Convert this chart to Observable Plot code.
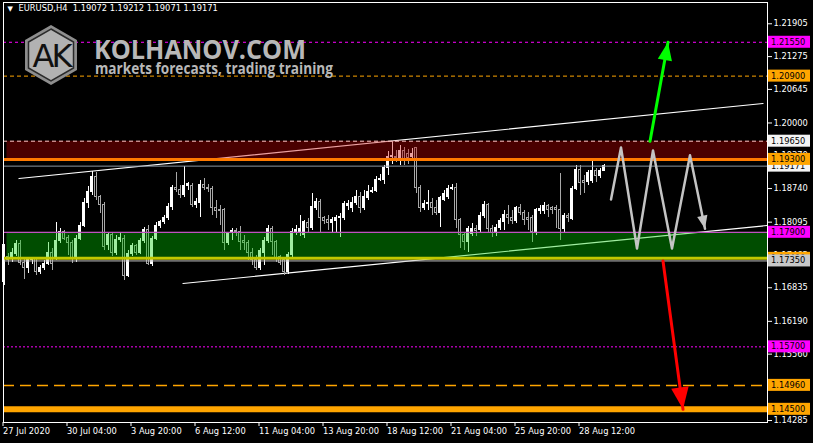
<!DOCTYPE html>
<html><head><meta charset="utf-8">
<script src="https://cdn.jsdelivr.net/npm/d3@7"></script>
<script src="https://cdn.jsdelivr.net/npm/@observablehq/plot@0.6"></script>
<style>html,body{margin:0;padding:0;background:#000;}svg{display:block}</style>
</head><body><div id="chart"></div>
<script>
// ---- data (EURUSD H4) ----
const open = [
1.1694,1.1742,1.1742,1.1749,1.1767,1.1732,1.1721,1.1736,1.1738,1.1713,
1.1722,1.1730,1.1751,1.1742,1.1774,1.1790,1.1780,1.1769,1.1740,1.1778,
1.1803,1.1847,1.1867,1.1897,1.1857,1.1842,1.1765,1.1784,1.1751,1.1776,
1.1778,1.1707,1.1749,1.1763,1.1751,1.1774,1.1794,1.1730,1.1778,1.1803,
1.1809,1.1817,1.1838,1.1876,1.1872,1.1861,1.1878,1.1878,1.1842,1.1847,
1.1880,1.1876,1.1874,1.1836,1.1832,1.1832,1.1769,1.1790,1.1792,1.1790,
1.1774,1.1769,1.1751,1.1736,1.1722,1.1751,1.1774,1.1797,1.1771,1.1742,
1.1736,1.1713,1.1746,1.1790,1.1788,1.1784,1.1807,1.1799,1.1836,1.1849,
1.1817,1.1813,1.1807,1.1811,1.1817,1.1817,1.1840,1.1836,1.1847,1.1857,
1.1836,1.1855,1.1868,1.1870,1.1891,1.1890,1.1913,1.1934,1.1934,1.1928,
1.1947,1.1941,1.1934,1.1951,1.1876,1.1836,1.1845,1.1847,1.1836,1.1828,
1.1853,1.1857,1.1874,1.1876,1.1813,1.1784,1.1771,1.1786,1.1796,1.1794,
1.1822,1.1842,1.1797,1.1788,1.1799,1.1809,1.1824,1.1817,1.1811,1.1836,
1.1828,1.1817,1.1817,1.1790,1.1830,1.1830,1.1840,1.1836,1.1836,1.1832,
1.1796,1.1822,1.1815,1.1874,1.1909,1.1888,1.1886,1.1888,1.1907,1.1899,
1.19072];
const high = [
1.1765,1.1749,1.1759,1.1774,1.1774,1.1740,1.1740,1.1742,1.1742,1.1726,
1.1736,1.1771,1.1759,1.1809,1.1797,1.1794,1.1784,1.1774,1.1784,1.1809,
1.1855,1.1878,1.1907,1.1905,1.1861,1.1847,1.1790,1.1790,1.1784,1.1790,
1.1784,1.1755,1.1769,1.1767,1.1778,1.1799,1.1803,1.1782,1.1809,1.1813,
1.1822,1.1845,1.1880,1.1905,1.1880,1.1916,1.1886,1.1884,1.1855,1.1890,
1.1893,1.1882,1.1878,1.1851,1.1842,1.1836,1.1790,1.1797,1.1797,1.1801,
1.1784,1.1774,1.1759,1.1746,1.1759,1.1780,1.1803,1.1801,1.1774,1.1746,
1.1740,1.1751,1.1797,1.1803,1.1822,1.1813,1.1817,1.1865,1.1855,1.1853,
1.1820,1.1822,1.1819,1.1822,1.1826,1.1849,1.1851,1.1857,1.1870,1.1867,
1.1870,1.1880,1.1876,1.1897,1.1901,1.1918,1.1945,1.1964,1.1947,1.1957,
1.1953,1.1949,1.1951,1.1953,1.1880,1.1851,1.1870,1.1855,1.1851,1.1859,
1.1870,1.1880,1.1882,1.1884,1.1817,1.1790,1.1801,1.1807,1.1803,1.1828,
1.1849,1.1845,1.1803,1.1805,1.1817,1.1832,1.1842,1.1832,1.1840,1.1843,
1.1832,1.1828,1.1822,1.1836,1.1842,1.1847,1.1843,1.1840,1.1842,1.1903,
1.1826,1.1826,1.1878,1.1918,1.1918,1.1899,1.1909,1.1928,1.1913,1.1913,
1.19212];
const low = [
1.1688,1.1726,1.1732,1.1744,1.1726,1.1700,1.1711,1.1728,1.1707,1.1709,
1.1717,1.1726,1.1717,1.1736,1.1769,1.1774,1.1746,1.1730,1.1732,1.1774,
1.1799,1.1836,1.1861,1.1851,1.1826,1.1755,1.1755,1.1744,1.1746,1.1771,
1.1698,1.1703,1.1744,1.1746,1.1748,1.1769,1.1726,1.1724,1.1774,1.1797,
1.1805,1.1813,1.1832,1.1867,1.1855,1.1857,1.1870,1.1838,1.1836,1.1819,
1.1870,1.1867,1.1822,1.1817,1.1803,1.1755,1.1765,1.1774,1.1782,1.1755,
1.1755,1.1736,1.1726,1.1717,1.1717,1.1726,1.1769,1.1746,1.1732,1.1726,
1.1707,1.1709,1.1740,1.1784,1.1782,1.1778,1.1790,1.1794,1.1832,1.1790,
1.1805,1.1794,1.1790,1.1788,1.1780,1.1813,1.1832,1.1828,1.1842,1.1826,
1.1832,1.1851,1.1865,1.1867,1.1888,1.1882,1.1899,1.1920,1.1924,1.1918,
1.1918,1.1920,1.1928,1.1865,1.1828,1.1832,1.1832,1.1822,1.1822,1.1799,
1.1849,1.1853,1.1870,1.1797,1.1759,1.1755,1.1751,1.1782,1.1782,1.1790,
1.1817,1.1790,1.1780,1.1782,1.1794,1.1794,1.1805,1.1805,1.1807,1.1822,
1.1803,1.1794,1.1771,1.1784,1.1824,1.1824,1.1819,1.1824,1.1797,1.1774,
1.1790,1.1809,1.1813,1.1870,1.1861,1.1865,1.1880,1.1884,1.1886,1.1893,
1.19071];
const close = [
1.1765,1.1736,1.1751,1.1767,1.1732,1.1721,1.1736,1.1738,1.1713,1.1722,
1.1730,1.1751,1.1730,1.1774,1.1790,1.1778,1.1769,1.1740,1.1778,1.1803,
1.1847,1.1867,1.1897,1.1857,1.1842,1.1761,1.1784,1.1751,1.1776,1.1780,
1.1707,1.1749,1.1763,1.1751,1.1774,1.1794,1.1730,1.1778,1.1803,1.1809,
1.1817,1.1838,1.1876,1.1872,1.1861,1.1878,1.1882,1.1842,1.1849,1.1880,
1.1876,1.1874,1.1836,1.1830,1.1831,1.1769,1.1786,1.1792,1.1790,1.1771,
1.1769,1.1751,1.1736,1.1722,1.1755,1.1774,1.1797,1.1771,1.1740,1.1732,
1.1713,1.1746,1.1790,1.1794,1.1797,1.1809,1.1799,1.1838,1.1849,1.1817,
1.1811,1.1807,1.1813,1.1817,1.1819,1.1845,1.1845,1.1847,1.1857,1.1836,
1.1857,1.1868,1.1870,1.1890,1.1893,1.1913,1.1934,1.1936,1.1932,1.1947,
1.1928,1.1932,1.1941,1.1876,1.1836,1.1845,1.1847,1.1836,1.1828,1.1855,
1.1863,1.1874,1.1876,1.1813,1.1784,1.1771,1.1797,1.1796,1.1792,1.1822,
1.1842,1.1797,1.1788,1.1799,1.1811,1.1824,1.1817,1.1811,1.1836,1.1828,
1.1813,1.1813,1.1790,1.1832,1.1834,1.1840,1.1832,1.1832,1.1832,1.1796,
1.1822,1.1817,1.1874,1.1909,1.1884,1.1884,1.1903,1.1907,1.1899,1.1907,
1.19171];

const xTickIdx = [0,16,32,48,64,80,96,112,128,144];
const xTickLabels = ["27 Jul 2020","30 Jul 04:00","3 Aug 20:00","6 Aug 12:00","11 Aug 04:00","13 Aug 20:00","18 Aug 12:00","21 Aug 04:00","25 Aug 20:00","28 Aug 12:00"];
const yTicks = [1.21905,1.21275,1.20645,1.20000,1.19370,1.18740,1.18095,1.17465,1.16835,1.16190,1.15560,1.14930,1.14285];

const targetsUp = [1.2155, 1.2090];
const redZone = [1.1930, 1.1965];
const greenZone = [1.1740, 1.1790];
const support = [1.1735];
const targetsDown = [1.1570, 1.1496, 1.1450];
const bid = [1.19171];
const zoneStart = [0.75];

const upperTrendI = [3.75, 189.75], upperTrendP = [1.18933, 1.20374];
const lowerTrendI = [44.75, 190.75], lowerTrendP = [1.16917, 1.18031];
const zigI = [151.75, 154.25, 158.25, 162.25, 167, 171.5, 175.25];
const zigP = [1.1853, 1.1953, 1.1759, 1.1947, 1.1759, 1.1938, 1.1797];
const upArrowI = [161.5, 166], upArrowP = [1.1965, 1.2155];
const downArrowI = [164.75, 169.75], downArrowP = [1.1735, 1.1450];

const title = "EURUSD,H4  1.19072 1.19212 1.19071 1.19171";

// ---- build ----
const candles = close.map((c, i) => ({i, o: open[i], h: high[i], l: low[i], c}));
const bulls = candles.filter(d => d.c >= d.o);
const bears = candles.filter(d => d.c < d.o);
const pts = (I, P) => I.map((x, k) => ({i: x, p: P[k]}));
const xMax = 190.875;

const arrowHead = {draw(ctx, size) {
  const l = Math.sqrt(size / Math.PI), w = l * 0.4;
  ctx.moveTo(0, 0); ctx.lineTo(w, l); ctx.lineTo(-w, l); ctx.closePath();
}};

const font = "DejaVu Sans";
const fs = 8.3;

const svg = Plot.plot({
  width: 813, height: 443,
  marginLeft: 3, marginRight: 46, marginTop: 2, marginBottom: 21,
  style: {background: "#000", color: "#fff", fontFamily: font, fontSize: fs + "px"},
  x: {domain: [-0.125, xMax], label: null},
  y: {domain: [1.14247, 1.22314], label: null},
  marks: [
    // trend channel
    Plot.line(pts(upperTrendI, upperTrendP), {x: "i", y: "p", stroke: "#fff", strokeWidth: 1.2}),
    Plot.line(pts(lowerTrendI, lowerTrendP), {x: "i", y: "p", stroke: "#fff", strokeWidth: 1.2}),
    // candles
    Plot.ruleX(bulls, {x: "i", y1: "l", y2: "h", stroke: "#fff", strokeWidth: 1, shapeRendering: "crispEdges"}),
    Plot.ruleX(bears, {x: "i", y1: "l", y2: "h", stroke: "#a8a8a8", strokeWidth: 1, shapeRendering: "crispEdges"}),
    Plot.rect(bulls, {x1: d => d.i - 0.25, x2: d => d.i + 0.25, y1: "o", y2: "c", fill: "#fff", stroke: "#fff", strokeWidth: 1, shapeRendering: "crispEdges"}),
    Plot.rect(bears, {x1: d => d.i - 0.25, x2: d => d.i + 0.25, y1: "o", y2: "c", fill: "#000", stroke: "#a8a8a8", strokeWidth: 1, shapeRendering: "crispEdges"}),
    // zones (semi-transparent over candles)
    Plot.rect([0], {x1: zoneStart[0], x2: xMax, y1: redZone[0], y2: redZone[1], fill: "#c80000", fillOpacity: 0.37}),
    Plot.rect([0], {x1: zoneStart[0], x2: xMax, y1: greenZone[0], y2: greenZone[1], fill: "#00d000", fillOpacity: 0.37}),
    // horizontal levels
    Plot.ruleY([targetsUp[0]], {stroke: "#ff00ff", strokeDasharray: "3,3", strokeWidth: 1}),
    Plot.ruleY([targetsUp[1]], {stroke: "#ffa500", strokeDasharray: "4,3", strokeWidth: 1}),
    Plot.ruleY([redZone[1]], {stroke: "#ffc8c8", strokeDasharray: "4,3", strokeWidth: 1}),
    Plot.ruleY(bid, {stroke: "#8a96a2", strokeWidth: 1}),
    Plot.ruleY([redZone[0]], {stroke: "#ff7a00", strokeWidth: 3}),
    Plot.ruleY([greenZone[1]], {stroke: "#c050c0", strokeWidth: 1.2}),
    Plot.ruleY([greenZone[0]], {stroke: "#c0c800", strokeWidth: 3}),
    Plot.ruleY(support, {stroke: "#c0c0c0", strokeWidth: 1}),
    Plot.ruleY([targetsDown[0]], {stroke: "#ff00ff", strokeDasharray: "2,2", strokeWidth: 1}),
    Plot.ruleY([targetsDown[1]], {stroke: "#ffa500", strokeDasharray: "11,6", strokeWidth: 1.5}),
    Plot.ruleY([targetsDown[2]], {stroke: "#ffa500", strokeWidth: 6}),
    // forecast zigzag
    Plot.line(pts(zigI, zigP), {x: "i", y: "p", stroke: "#c4c4c4", strokeWidth: 2.5}),
    Plot.dot(pts(zigI, zigP).slice(-1), {x: "i", y: "p", r: 13, symbol: arrowHead, rotate: 168, fill: "#c4c4c4", stroke: "none"}),
    // up / down scenario arrows
    Plot.line(pts(upArrowI, upArrowP), {x: "i", y: "p", stroke: "#00ff00", strokeWidth: 3}),
    Plot.dot(pts(upArrowI, upArrowP).slice(-1), {x: "i", y: "p", r: 18, symbol: arrowHead, rotate: 10, fill: "#00ff00", stroke: "none"}),
    Plot.line(pts(downArrowI, downArrowP), {x: "i", y: "p", stroke: "#ff0000", strokeWidth: 3}),
    Plot.dot(pts(downArrowI, downArrowP).slice(-1), {x: "i", y: "p", r: 22, symbol: arrowHead, rotate: 172, fill: "#ff0000", stroke: "none"}),
    // header
    Plot.text(["▼"], {text: d => d, frameAnchor: "top-left", dx: 4, dy: 4, textAnchor: "start", fill: "#fff", fontSize: 7}),
    Plot.text([title], {text: d => d, frameAnchor: "top-left", dx: 15, dy: 3, textAnchor: "start", fill: "#fff", fontSize: fs}),
    // axes
    Plot.axisY(yTicks, {anchor: "right", label: null, tickSize: 4, tickPadding: 2, tickFormat: d3.format(".5f"), stroke: "#fff", fill: "#fff", fontSize: fs}),
    Plot.axisX(xTickIdx, {anchor: "bottom", label: null, tickSize: 4, tickPadding: 2, tickFormat: d => xTickLabels[xTickIdx.indexOf(d)], textAnchor: "start", dx: -1, stroke: "#fff", fill: "#fff", fontSize: fs}),
    Plot.frame({stroke: "#fff"})
  ]
});

// price label boxes on the right axis
const yS = svg.scale("y");
const labelPrices = [targetsUp[0], targetsUp[1], redZone[1], bid[0], redZone[0], greenZone[1], greenZone[0], support[0], targetsDown[0], targetsDown[1], targetsDown[2]];
const labelColors = ["#ff00ff", "#ffa500", "#f4f4f4", "#f4f4f4", "#ffa500", "#ff00ff", "#ffa500", "#c8c8c8", "#ff00ff", "#ffa500", "#ffa500"];
const root = d3.select(svg);
const lg = root.append("g").attr("font-family", font).attr("font-size", fs).attr("text-anchor", "start");
labelPrices.forEach((p, k) => {
  const y = yS.apply(p);
  lg.append("rect").attr("x", 768).attr("y", y - 6).attr("width", 42).attr("height", 12).attr("fill", labelColors[k]);
  lg.append("text").attr("x", 771).attr("y", y).attr("dy", "0.35em").attr("text-anchor", "start").attr("fill", "#000").text(d3.format(".5f")(p));
});

// watermark
const wm = root.append("g").attr("text-anchor", "start");
const hex = (cx, cy, R) => d3.range(6).map(k => {
  const a = Math.PI / 3 * k - Math.PI / 2;
  return [cx + R * Math.cos(a), cy + R * Math.sin(a)];
}).map(p => p.join(",")).join(" ");
wm.append("polygon").attr("points", hex(51, 55, 30)).attr("fill", "#8e8e8e");
wm.append("polygon").attr("points", hex(51, 55, 26)).attr("fill", "#b2b2b2").attr("stroke", "#2a2a2a").attr("stroke-width", 1.5);
wm.append("text").attr("x", 51).attr("y", 67).attr("text-anchor", "middle").attr("font-family", font)
  .attr("font-size", 32).attr("letter-spacing", -3).attr("fill", "#111").text("AK");
wm.append("text").attr("x", 94).attr("y", 59).attr("text-anchor", "start").attr("font-family", "Open Sans").attr("font-weight", "bold")
  .attr("font-size", 27).attr("textLength", 212).attr("lengthAdjust", "spacingAndGlyphs").attr("fill", "#b8b8b8").text("KOLHANOV.COM");
wm.append("text").attr("x", 95).attr("y", 74).attr("text-anchor", "start").attr("font-family", "Open Sans").attr("font-weight", "bold")
  .attr("font-size", 16).attr("textLength", 238).attr("lengthAdjust", "spacingAndGlyphs").attr("fill", "#b8b8b8").text("markets forecasts, trading training");

document.getElementById("chart").appendChild(svg);
</script>
</body></html>
